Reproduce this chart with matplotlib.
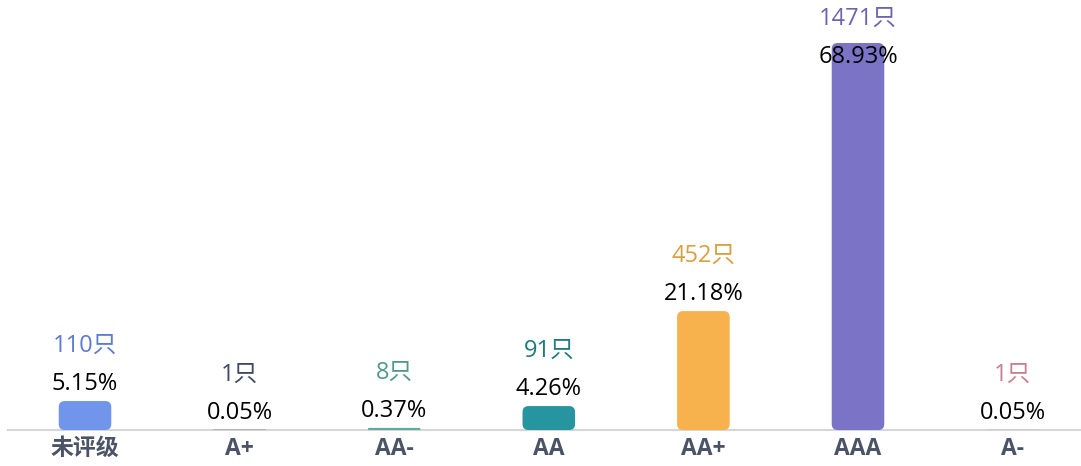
import numpy as np
import matplotlib.pyplot as plt
from matplotlib.patches import FancyBboxPatch

plt.rcParams['font.family'] = ['Open Sans', 'Noto Sans CJK SC', 'DejaVu Sans']

# %% data
categories = ['未评级', 'A+', 'AA-', 'AA', 'AA+', 'AAA', 'A-']
counts = [110, 1, 8, 91, 452, 1471, 1]
shares = [5.15, 0.05, 0.37, 4.26, 21.18, 68.93, 0.05]
bar_colors = ['#7095ea', '#4a5878', '#5fab9c', '#26959f',
              '#f8b24d', '#7b73c6', '#e3a3ad']
label_colors = ['#5b7bd0', '#3d4a66', '#4f9a8a', '#1f7a80',
                '#d9a040', '#6b64b0', '#c88090']

# %% figure
W, H, dpi = 1081, 466, 100
fig = plt.figure(figsize=(W / dpi, H / dpi), dpi=dpi)
base_px = 36                      # baseline height from bottom, px
ax_h_px = H - base_px
step_px = 154.6
left_px = 85 - step_px / 2
ax = fig.add_axes([left_px / W, base_px / H, 7 * step_px / W, ax_h_px / H])

ymax = max(counts) * ax_h_px / 387
ax.set_xlim(-0.5, 6.5)
ax.set_ylim(0, ymax)

pos = np.arange(len(categories))
width = 0.34
px_per_y = ax_h_px / ymax
aspect = (1 / px_per_y) / (1 / step_px)
r = 6 / step_px

for i, (v, c) in enumerate(zip(counts, bar_colors)):
    h_x = v * px_per_y / step_px
    rs = min(r, h_x / 2, width / 2)
    patch = FancyBboxPatch((pos[i] - width / 2, 0), width, v,
                           boxstyle='round,pad=0,rounding_size=%f' % rs,
                           mutation_aspect=aspect, fc=c, ec='none',
                           clip_on=False)
    ax.add_patch(patch)

# labels: count above percentage, pushed down when too close to the top
pt = 72 / dpi
for i, v in enumerate(counts):
    bar_px = v * px_per_y
    room = (ax_h_px - 19) - bar_px
    off_c = min(55, room)
    off_p = off_c - 38
    ax.annotate('%d只' % v, (pos[i], v), xytext=(0, off_c * pt),
                textcoords='offset points', ha='center', va='center',
                fontsize=17, color=label_colors[i])
    ax.annotate('%.2f%%' % shares[i], (pos[i], v), xytext=(0, off_p * pt),
                textcoords='offset points', ha='center', va='center',
                fontsize=17, color='black')

# axis
ax.set_xticks(pos)
ax.set_xticklabels(categories, fontsize=16.5, fontweight='bold', color='#4a5466')
ax.tick_params(axis='x', length=0, pad=5)
ax.set_yticks([])
for s in ['top', 'right', 'left']:
    ax.spines[s].set_visible(False)
ax.spines['bottom'].set_color('#d6d6d6')
ax.spines['bottom'].set_linewidth(1.5)
ax.spines['bottom'].set_zorder(0)

plt.savefig('out.png', dpi=dpi)
